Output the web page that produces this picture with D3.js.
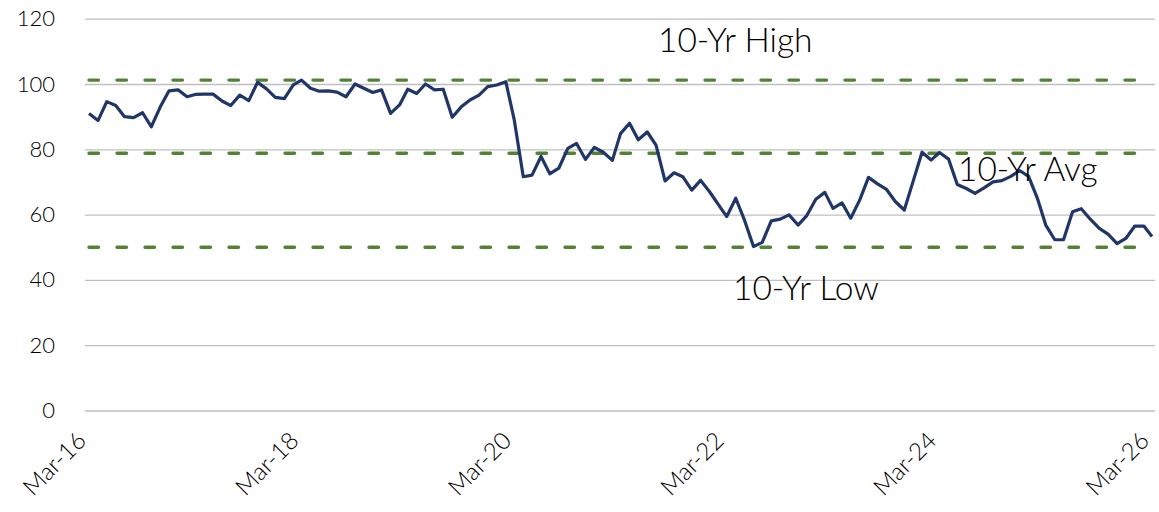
<!DOCTYPE html>
<html>
<head>
<meta charset="utf-8">
<script src="https://cdn.jsdelivr.net/npm/d3@7"></script>
<style>
  html, body { margin: 0; padding: 0; background: #fff; }
  svg text { font-family: Lato, "Open Sans", sans-serif; font-weight: 300; }
</style>
</head>
<body>
<div id="chart"></div>
<script>
// monthly readings, Mar-16 .. Mar-26
const firstMonth = new Date(Date.UTC(2016, 2, 1));
const months = d3.utcMonth.range(firstMonth, d3.utcMonth.offset(firstMonth, 121));

const values = [
  91.0, 88.8, 94.6, 93.4, 90.0, 89.7, 91.2, 86.9, 93.0, 97.9,
  98.2, 96.1, 96.8, 96.9, 96.9, 94.8, 93.4, 96.6, 94.9, 100.5,
  98.5, 95.9, 95.5, 99.7, 101.2, 98.7, 97.8, 97.9, 97.5, 96.1,
  100.0, 98.7, 97.4, 98.2, 91.0, 93.6, 98.4, 97.1, 100.0, 98.2,
  98.4, 89.8, 93.0, 95.1, 96.6, 99.2, 99.7, 100.7, 89.0, 71.6,
  72.1, 77.8, 72.5, 74.2, 80.3, 81.8, 76.9, 80.6, 79.1, 76.6,
  84.8, 88.0, 82.9, 85.3, 81.3, 70.3, 72.8, 71.6, 67.5, 70.5,
  67.0, 63.0, 59.4, 65.0, 58.3, 50.2, 51.5, 58.1, 58.6, 59.9,
  56.8, 59.7, 64.7, 66.8, 61.9, 63.6, 58.9, 64.5, 71.4, 69.4,
  67.7, 64.0, 61.4, 70.1, 79.1, 76.7, 79.0, 77.0, 69.2, 68.0,
  66.5, 68.2, 70.0, 70.4, 71.7, 73.5, 71.7, 64.8, 56.8, 52.3,
  52.3, 60.9, 61.8, 58.6, 55.8, 54.0, 51.1, 52.7, 56.5, 56.5, 53.3
];

const refNames = ["10-Yr High", "10-Yr Avg", "10-Yr Low"];
const refValues = [101.2, 78.8, 50.0];

const yTicks = [0, 20, 40, 60, 80, 100, 120];
const xTickDates = [2016, 2018, 2020, 2022, 2024, 2026].map(yr => new Date(Date.UTC(yr, 2, 1)));

const width = 1159, height = 512;
const gridLeft = 85, gridRight = 1155;

const svg = d3.select("#chart").append("svg")
  .attr("width", width)
  .attr("height", height);

const x = d3.scaleUtc()
  .domain([months[0], months[months.length - 1]])
  .range([89, 1152]);

const y = d3.scaleLinear()
  .domain([0, 120])
  .range([410.5, 18.7]);

// gridlines + y labels
svg.append("g")
  .attr("class", "y axis")
  .attr("transform", `translate(${gridLeft},0)`)
  .call(d3.axisLeft(y).tickValues(yTicks).tickSize(-(gridRight - gridLeft)).tickPadding(30))
  .call(g => g.select(".domain").remove())
  .call(g => g.selectAll(".tick line").attr("stroke", "#bfbfbf").attr("stroke-width", 1.3))
  .call(g => g.selectAll(".tick text")
    .attr("fill", "#000")
    .style("font-size", "22px"));

// x labels, rotated
svg.append("g")
  .attr("class", "x axis")
  .attr("transform", "translate(0,432)")
  .call(d3.axisBottom(x).tickValues(xTickDates).tickFormat(d3.utcFormat("%b-%y")).tickSize(0).tickPadding(0))
  .call(g => g.select(".domain").remove())
  .call(g => g.selectAll(".tick text")
    .attr("fill", "#000")
    .style("font-size", "24px")
    .attr("text-anchor", "end")
    .attr("dy", "0.6em")
    .attr("transform", "translate(-12,0) rotate(-45)"));

// reference lines
svg.append("g")
  .selectAll("line")
  .data(refValues)
  .join("line")
  .attr("x1", x(months[0]))
  .attr("x2", x(months[months.length - 1]))
  .attr("y1", d => y(d))
  .attr("y2", d => y(d))
  .attr("stroke", "#548235")
  .attr("stroke-width", 3.4)
  .attr("stroke-linecap", "round")
  .attr("stroke-dasharray", "9.5,18.5");

// series
const line = d3.line()
  .x((d, i) => x(months[i]))
  .y(d => y(d));

svg.append("path")
  .datum(values)
  .attr("fill", "none")
  .attr("stroke", "#203668")
  .attr("stroke-width", 3.2)
  .attr("stroke-linejoin", "round")
  .attr("d", line);

// annotations
const labelX = [658, 958, 733];
const labelDy = [-28, 28, 53];
svg.append("g")
  .selectAll("text")
  .data(refNames)
  .join("text")
  .attr("x", (d, i) => labelX[i])
  .attr("y", (d, i) => y(refValues[i]) + labelDy[i])
  .attr("fill", "#000")
  .style("font-size", "33.5px")
  .text(d => d);
</script>
</body>
</html>
